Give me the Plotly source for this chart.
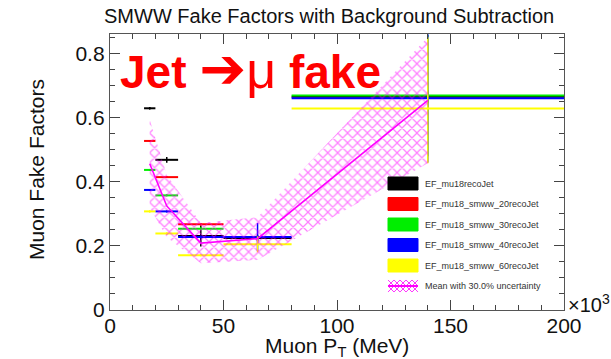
import plotly.graph_objects as go

# ---------------- data ----------------
bin_centers = [17.5, 25, 40, 65, 140]
bin_halfwidths = [2.5, 5, 10, 15, 60]

black_vals = [0.630, 0.469, 0.231, 0.225, 0.666]
black_errs = [0.004, 0.009, 0.033, 0.010, 0.020]

red_vals = [0.528, 0.415, 0.268, None, None]
red_errs = [0.003, 0.003, 0.004, 0, 0]

green_vals = [0.4375, 0.358, 0.254, None, 0.670]
green_errs = [0.003, 0.003, 0.004, 0, 0.19]

blue_vals = [0.375, 0.308, 0.228, 0.228, 0.661]
blue_errs = [0.003, 0.003, 0.005, 0.044, 0.20]

yellow_vals = [0.308, 0.239, 0.171, 0.205, 0.629]
yellow_errs_up = [0.003, 0.003, 0.003, 0.025, 0.223]
yellow_errs_down = [0.003, 0.003, 0.003, 0.025, 0.171]

mean_vals = [0.457, 0.325, 0.209, 0.223, 0.655]
uncertainty = 0.30

legend_labels = ["EF_mu18recoJet", "EF_mu18_smww_20recoJet", "EF_mu18_smww_30recoJet",
                 "EF_mu18_smww_40recoJet", "EF_mu18_smww_60recoJet"]
mean_label = "Mean with 30.0% uncertainty"

# ---------------- figure ----------------
W, H = 611, 359
ML, MR, MT, MB = 110, 47, 34, 49
PW, PH = W - ML - MR, H - MT - MB

FONT = "Liberation Sans, Arial, Helvetica, sans-serif"
colors = ["#000000", "#ff0000", "#00ee00", "#0000ff", "#ffff00"]

fig = go.Figure()

def add_series(vals, errs_up, errs_down, color):
    fig.add_trace(go.Scatter(
        x=bin_centers, y=vals, mode="markers",
        marker=dict(size=2, color=color),
        error_x=dict(type="data", array=bin_halfwidths, color=color, thickness=2, width=0),
        error_y=dict(type="data", array=errs_up, arrayminus=errs_down, color=color,
                     thickness=1.5, width=0, symmetric=False),
        showlegend=False, hoverinfo="skip"))

add_series(black_vals, black_errs, black_errs, colors[0])
add_series(red_vals, red_errs, red_errs, colors[1])
add_series(green_vals, green_errs, green_errs, colors[2])
add_series(blue_vals, blue_errs, blue_errs, colors[3])
add_series(yellow_vals, yellow_errs_up, yellow_errs_down, colors[4])

# uncertainty band (hatched)
upper = [m * (1 + uncertainty) for m in mean_vals]
lower = [m * (1 - uncertainty) for m in mean_vals]
fig.add_trace(go.Scatter(
    x=bin_centers + bin_centers[::-1], y=upper + lower[::-1],
    mode="lines", fill="toself", line=dict(width=0, color="rgba(0,0,0,0)"),
    fillcolor="rgba(0,0,0,0)",
    fillpattern=dict(shape="x", fgcolor="#ff00ff", bgcolor="rgba(0,0,0,0)", size=7, solidity=0.32),
    showlegend=False, hoverinfo="skip"))

fig.add_trace(go.Scatter(
    x=bin_centers, y=mean_vals, mode="lines",
    line=dict(color="#ff00ff", width=1.6),
    showlegend=False, hoverinfo="skip"))

axis_common = dict(
    ticks="inside", ticklen=10, tickwidth=1, tickcolor="#444",
    showline=True, linecolor="#555", linewidth=1.3, mirror="allticks",
    showgrid=False, zeroline=False,
    tickfont=dict(family=FONT, size=21, color="#111"),
)

fig.update_layout(
    width=W, height=H,
    margin=dict(l=ML, r=MR, t=MT, b=MB),
    paper_bgcolor="white", plot_bgcolor="white",
    showlegend=False,
    xaxis=dict(range=[0, 200], tick0=0, dtick=50, ticklabelstandoff=-3,
               minor=dict(dtick=10, ticklen=5, ticks="inside", tickcolor="#444"),
               **axis_common),
    yaxis=dict(range=[0, 0.862], tick0=0, dtick=0.2,
               minor=dict(dtick=0.05, ticklen=5, ticks="inside", tickcolor="#444"),
               **axis_common),
)

def px2paper_x(px):
    return (px - ML) / PW

def px2paper_y(py):
    return (MT + PH - py) / PH

annotations = []
# title
annotations.append(dict(text="SMWW Fake Factors with Background Subtraction",
                        xref="paper", yref="paper", x=px2paper_x(329), y=px2paper_y(16),
                        xanchor="center", yanchor="middle", showarrow=False,
                        font=dict(family=FONT, size=20, color="#111")))
# axis titles
annotations.append(dict(text="Muon P<sub>T</sub> (MeV)",
                        xref="paper", yref="paper", x=px2paper_x(337), y=px2paper_y(347),
                        xanchor="center", yanchor="middle", showarrow=False,
                        font=dict(family=FONT, size=21, color="#111")))
annotations.append(dict(text="Muon Fake Factors", textangle=-90,
                        xref="paper", yref="paper", x=px2paper_x(36), y=px2paper_y(170),
                        xanchor="center", yanchor="middle", showarrow=False,
                        font=dict(family=FONT, size=21, color="#111")))
# x10^3
annotations.append(dict(text="×10<sup>3</sup>",
                        xref="paper", yref="paper", x=px2paper_x(566), y=px2paper_y(303),
                        xanchor="left", yanchor="middle", showarrow=False,
                        font=dict(family=FONT, size=20, color="#111")))
# big red label
annotations.append(dict(text="<b>Jet </b><span style='font-family:DejaVu Sans;font-size:56px'>➔</span>"
                             "<span style='font-size:52px'>μ</span><b> fake</b>",
                        xref="paper", yref="paper", x=px2paper_x(118), y=px2paper_y(68),
                        xanchor="left", yanchor="middle", showarrow=False,
                        font=dict(family=FONT, size=46, color="#ff0000")))

# custom legend
shapes = []
row_centers = [183.5, 204, 224.5, 245, 265.5]
bx0, bx1 = 388, 418
for c, lab, yc in zip(colors, legend_labels, row_centers):
    shapes.append(dict(type="rect", xref="paper", yref="paper",
                       x0=px2paper_x(bx0), x1=px2paper_x(bx1),
                       y0=px2paper_y(yc + 6.5), y1=px2paper_y(yc - 6.5),
                       fillcolor=c, line=dict(color=c, width=1)))
    annotations.append(dict(text=lab, xref="paper", yref="paper",
                            x=px2paper_x(423), y=px2paper_y(yc),
                            xanchor="left", yanchor="middle", showarrow=False,
                            font=dict(family=FONT, size=9, color="#333")))

# hatch sample for the mean entry
yc = 286
top, bot = yc - 6, yc + 6
segs = []
step = 6
for k in range(-4, 12):
    x0 = bx0 + k * step
    for (xa, ya, xb, yb) in [(x0, top, x0 + (bot - top), bot), (x0, bot, x0 + (bot - top), top)]:
        if xb < bx0 or xa > bx1:
            continue
        t0 = max(0.0, (bx0 - xa) / (xb - xa))
        t1 = min(1.0, (bx1 - xa) / (xb - xa))
        if t1 <= t0:
            continue
        sx0, sy0 = xa + t0 * (xb - xa), ya + t0 * (yb - ya)
        sx1, sy1 = xa + t1 * (xb - xa), ya + t1 * (yb - ya)
        segs.append(f"M{px2paper_x(sx0):.5f},{px2paper_y(sy0):.5f} L{px2paper_x(sx1):.5f},{px2paper_y(sy1):.5f}")
shapes.append(dict(type="path", xref="paper", yref="paper", path=" ".join(segs),
                   line=dict(color="#ff33ff", width=1)))
shapes.append(dict(type="line", xref="paper", yref="paper",
                   x0=px2paper_x(bx0), x1=px2paper_x(bx1), y0=px2paper_y(yc), y1=px2paper_y(yc),
                   line=dict(color="#ff00ff", width=2)))
annotations.append(dict(text=mean_label, xref="paper", yref="paper",
                        x=px2paper_x(423), y=px2paper_y(yc),
                        xanchor="left", yanchor="middle", showarrow=False,
                        font=dict(family=FONT, size=9, color="#333")))

fig.update_layout(annotations=annotations, shapes=shapes)

fig.write_html("out.html")
